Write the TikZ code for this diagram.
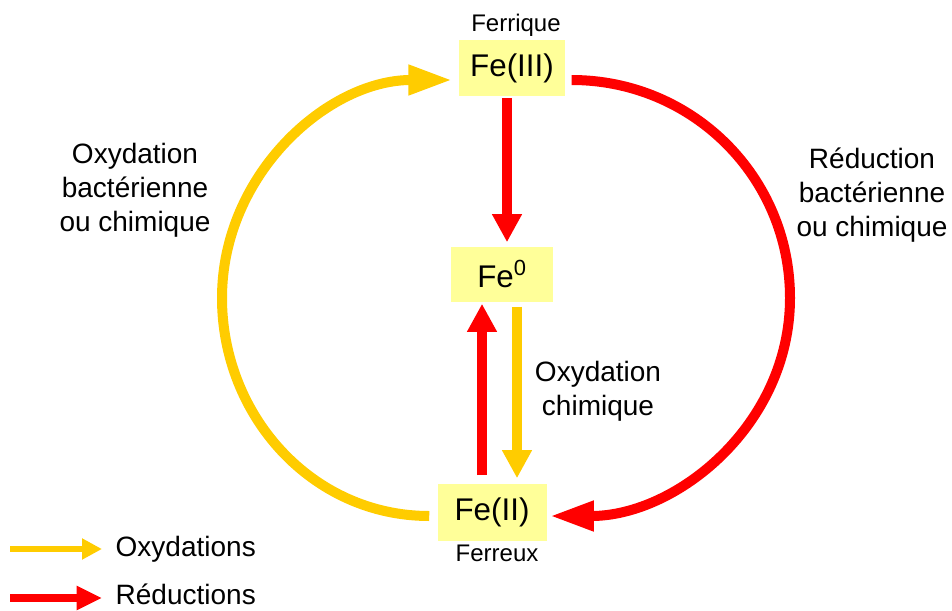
\documentclass[tikz,border=0pt]{standalone}
\usepackage{fontspec}
\setmainfont{Liberation Sans}
\usetikzlibrary{arrows.meta}

\definecolor{oxyorange}{HTML}{FFCC00}
\definecolor{redred}{HTML}{FF0000}
\definecolor{boxfill}{HTML}{FFFF99}

\tikzset{
    oxy/.style={draw=oxyorange,line width=7.5pt},
    red/.style={draw=redred,line width=7.5pt},
    bigtip/.style={-{Triangle[length=33pt,width=21pt]}},
    smalltip/.style={-{Triangle[length=21pt,width=21pt]}},
    lbl/.style={align=center,font=\fontsize{21}{25.5}\selectfont}
}

\begin{document}
\begin{tikzpicture}[x=0.75pt,y=-0.75pt]
\useasboundingbox (0,0) rectangle (952,610);

\begin{scope}[
    every node/.style={fill=boxfill,inner sep=0pt,font=\fontsize{23.5}{28}\selectfont}]
    \node (fe3) at (512,68) [minimum width=80pt,minimum height=42pt] {Fe(III)};
    \node (fe0) at (502,274) [minimum width=76.5pt,minimum height=41.25pt] {Fe\textsuperscript{0}};
    \node (fe2) at (492,512) [minimum width=81.75pt,minimum height=42.75pt] {Fe(II)};
\end{scope}

% % labels
\node (ferrique) at (516,25) [font=\fontsize{18}{22}\selectfont] {Ferrique};
\node (ferreux) at (497,553) [font=\fontsize{18}{22}\selectfont] {Ferreux};
\node (oxbact) at (135,190) [lbl] {Oxydation\\bactérienne\\ou chimique};
\node (redbact) at (872,195) [lbl] {Réduction\\bactérienne\\ou chimique};
\node (oxchim) at (598,391) [lbl] {Oxydation\\chimique};

% % big cycle
\coordinate (leftpt) at (222,298);
\coordinate (rightpt) at (790,298);
\draw [oxy,bigtip] ([shift={(-8,4)}]fe2.west) to[out=180,in=-90] (leftpt)
    to[out=90,in=180] ([shift={(-6,12)}]fe3.west);
\draw [red,bigtip] ([shift={(6,12)}]fe3.east) to[out=0,in=90] (rightpt)
    to[out=-90,in=0] ([shift={(3,4)}]fe2.east);

% % vertical arrows
\draw [red,smalltip] ([shift={(-5,2)}]fe3.south) -- ([shift={(5,-4)}]fe0.north);
\draw [red,smalltip] ([shift={(-10,-8)}]fe2.north) -- ([shift={(-20,2)}]fe0.south);
\draw [oxy,smalltip] ([shift={(15,5)}]fe0.south) -- ([shift={(25,-5)}]fe2.north);

% % legend
\coordinate (oxa) at (10,549);
\coordinate (oxb) at (102,549);
\coordinate (rea) at (10,598);
\coordinate (reb) at (102,598);
\draw [draw=oxyorange,line width=5pt,-{Triangle[length=15pt,width=15pt]}] (oxa) -- (oxb);
\draw [draw=redred,line width=6pt,-{Triangle[length=19pt,width=17pt]}] (rea) -- (reb);
\node (oxleg) at (111,549) [anchor=west,font=\fontsize{21}{25}\selectfont] {Oxydations};
\node (releg) at (111,594) [anchor=west,font=\fontsize{21}{25}\selectfont] {Réductions};
\end{tikzpicture}
\end{document}
